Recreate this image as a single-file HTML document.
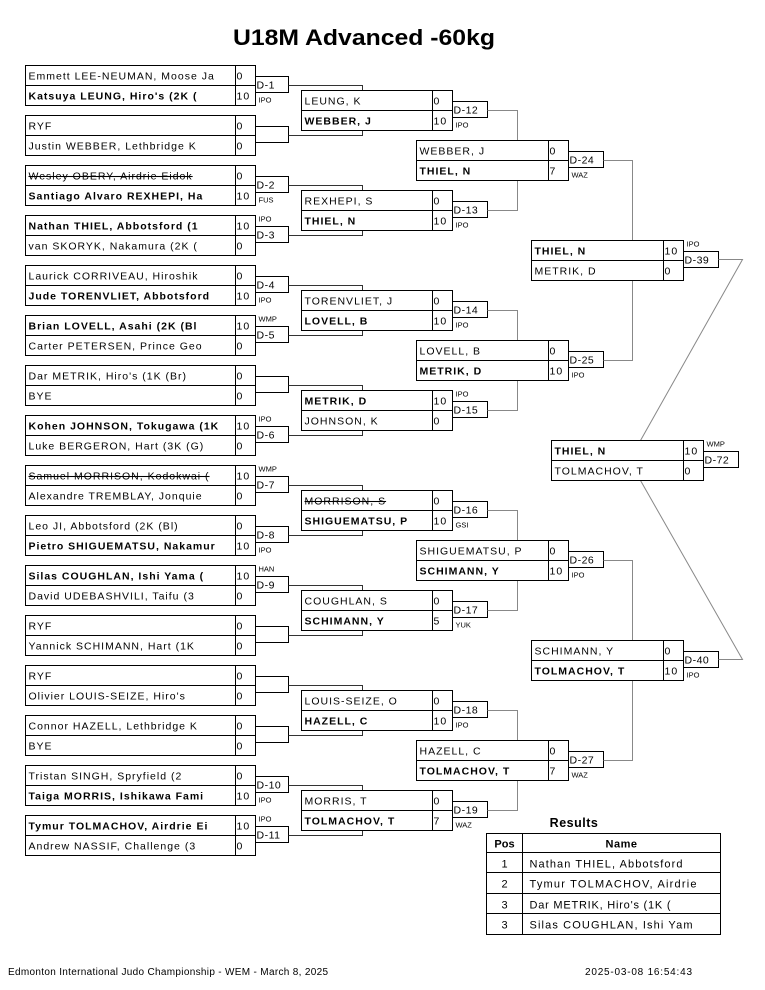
<!DOCTYPE html>
<html><head><meta charset="utf-8"><style>
html,body{margin:0;padding:0;background:#fff;}
svg{display:block;}
text{font-family:"Liberation Sans",Arial,sans-serif;fill:#000;}
.n{font-size:10.5px;letter-spacing:1px;}
.b{font-size:10.5px;font-weight:bold;letter-spacing:1px;}
.s{text-decoration:line-through;}
.d{font-size:10.5px;letter-spacing:0.5px;}
.m{font-size:7.5px;}
.box{fill:#fff;stroke:#000;stroke-width:1;}
.ln{stroke:#000;stroke-width:1;fill:none;}
.c1{stroke:#333;stroke-width:1;fill:none;}
.c2{stroke:#888;stroke-width:1;fill:none;}
</style></head><body>
<svg width="765" height="990" viewBox="0 0 765 990" xmlns="http://www.w3.org/2000/svg">
<text x="364" y="45" text-anchor="middle" font-size="22" font-weight="bold" textLength="262" lengthAdjust="spacingAndGlyphs">U18M Advanced -60kg</text>

<!-- ROUND 1 -->
<g transform="translate(25.5,65.5)"><rect class="box" width="230" height="40"/><line class="ln" x1="0" y1="20" x2="230" y2="20"/><line class="ln" x1="210" y1="0" x2="210" y2="40"/>
<text class="n" x="3" y="14">Emmett LEE-NEUMAN, Moose Ja</text><text class="b" x="3" y="34">Katsuya LEUNG, Hiro's (2K (</text><text class="n" x="211" y="14">0</text><text class="n" x="211" y="34">10</text>
<path class="ln" d="M230,11H263V27H230"/><text class="d" x="231" y="23">D-1</text><text class="m" x="233" y="37">IPO</text><path class="c1" d="M263,20H337V25"/></g>

<g transform="translate(25.5,115.5)"><rect class="box" width="230" height="40"/><line class="ln" x1="0" y1="20" x2="230" y2="20"/><line class="ln" x1="210" y1="0" x2="210" y2="40"/>
<text class="n" x="3" y="14">RYF</text><text class="n" x="3" y="34">Justin WEBBER, Lethbridge K</text><text class="n" x="211" y="14">0</text><text class="n" x="211" y="34">0</text>
<path class="ln" d="M230,11H263V27H230"/><path class="c1" d="M263,20H337V15"/></g>

<g transform="translate(25.5,165.5)"><rect class="box" width="230" height="40"/><line class="ln" x1="0" y1="20" x2="230" y2="20"/><line class="ln" x1="210" y1="0" x2="210" y2="40"/>
<text class="n s" x="3" y="14">Wesley OBERY, Airdrie Eidok</text><text class="b" x="3" y="34">Santiago Alvaro REXHEPI, Ha</text><text class="n" x="211" y="14">0</text><text class="n" x="211" y="34">10</text>
<path class="ln" d="M230,11H263V27H230"/><text class="d" x="231" y="23">D-2</text><text class="m" x="233" y="37">FUS</text><path class="c1" d="M263,20H337V25"/></g>

<g transform="translate(25.5,215.5)"><rect class="box" width="230" height="40"/><line class="ln" x1="0" y1="20" x2="230" y2="20"/><line class="ln" x1="210" y1="0" x2="210" y2="40"/>
<text class="b" x="3" y="14">Nathan THIEL, Abbotsford (1</text><text class="n" x="3" y="34"> van SKORYK, Nakamura (2K (</text><text class="n" x="211" y="14">10</text><text class="n" x="211" y="34">0</text>
<path class="ln" d="M230,11H263V27H230"/><text class="d" x="231" y="23">D-3</text><text class="m" x="233" y="6">IPO</text><path class="c1" d="M263,20H337V15"/></g>

<g transform="translate(25.5,265.5)"><rect class="box" width="230" height="40"/><line class="ln" x1="0" y1="20" x2="230" y2="20"/><line class="ln" x1="210" y1="0" x2="210" y2="40"/>
<text class="n" x="3" y="14">Laurick CORRIVEAU, Hiroshik</text><text class="b" x="3" y="34">Jude TORENVLIET, Abbotsford</text><text class="n" x="211" y="14">0</text><text class="n" x="211" y="34">10</text>
<path class="ln" d="M230,11H263V27H230"/><text class="d" x="231" y="23">D-4</text><text class="m" x="233" y="37">IPO</text><path class="c1" d="M263,20H337V25"/></g>

<g transform="translate(25.5,315.5)"><rect class="box" width="230" height="40"/><line class="ln" x1="0" y1="20" x2="230" y2="20"/><line class="ln" x1="210" y1="0" x2="210" y2="40"/>
<text class="b" x="3" y="14">Brian LOVELL, Asahi (2K (Bl</text><text class="n" x="3" y="34">Carter PETERSEN, Prince Geo</text><text class="n" x="211" y="14">10</text><text class="n" x="211" y="34">0</text>
<path class="ln" d="M230,11H263V27H230"/><text class="d" x="231" y="23">D-5</text><text class="m" x="233" y="6">WMP</text><path class="c1" d="M263,20H337V15"/></g>

<g transform="translate(25.5,365.5)"><rect class="box" width="230" height="40"/><line class="ln" x1="0" y1="20" x2="230" y2="20"/><line class="ln" x1="210" y1="0" x2="210" y2="40"/>
<text class="n" x="3" y="14">Dar METRIK, Hiro's (1K (Br)</text><text class="n" x="3" y="34">BYE</text><text class="n" x="211" y="14">0</text><text class="n" x="211" y="34">0</text>
<path class="ln" d="M230,11H263V27H230"/><path class="c1" d="M263,20H337V25"/></g>

<g transform="translate(25.5,415.5)"><rect class="box" width="230" height="40"/><line class="ln" x1="0" y1="20" x2="230" y2="20"/><line class="ln" x1="210" y1="0" x2="210" y2="40"/>
<text class="b" x="3" y="14">Kohen JOHNSON, Tokugawa (1K</text><text class="n" x="3" y="34">Luke BERGERON, Hart (3K (G)</text><text class="n" x="211" y="14">10</text><text class="n" x="211" y="34">0</text>
<path class="ln" d="M230,11H263V27H230"/><text class="d" x="231" y="23">D-6</text><text class="m" x="233" y="6">IPO</text><path class="c1" d="M263,20H337V15"/></g>

<g transform="translate(25.5,465.5)"><rect class="box" width="230" height="40"/><line class="ln" x1="0" y1="20" x2="230" y2="20"/><line class="ln" x1="210" y1="0" x2="210" y2="40"/>
<text class="n s" x="3" y="14">Samuel MORRISON, Kodokwai (</text><text class="n" x="3" y="34">Alexandre TREMBLAY, Jonquie</text><text class="n" x="211" y="14">10</text><text class="n" x="211" y="34">0</text>
<path class="ln" d="M230,11H263V27H230"/><text class="d" x="231" y="23">D-7</text><text class="m" x="233" y="6">WMP</text><path class="c1" d="M263,20H337V25"/></g>

<g transform="translate(25.5,515.5)"><rect class="box" width="230" height="40"/><line class="ln" x1="0" y1="20" x2="230" y2="20"/><line class="ln" x1="210" y1="0" x2="210" y2="40"/>
<text class="n" x="3" y="14">Leo JI, Abbotsford (2K (Bl)</text><text class="b" x="3" y="34">Pietro SHIGUEMATSU, Nakamur</text><text class="n" x="211" y="14">0</text><text class="n" x="211" y="34">10</text>
<path class="ln" d="M230,11H263V27H230"/><text class="d" x="231" y="23">D-8</text><text class="m" x="233" y="37">IPO</text><path class="c1" d="M263,20H337V15"/></g>

<g transform="translate(25.5,565.5)"><rect class="box" width="230" height="40"/><line class="ln" x1="0" y1="20" x2="230" y2="20"/><line class="ln" x1="210" y1="0" x2="210" y2="40"/>
<text class="b" x="3" y="14">Silas COUGHLAN, Ishi Yama (</text><text class="n" x="3" y="34">David UDEBASHVILI, Taifu (3</text><text class="n" x="211" y="14">10</text><text class="n" x="211" y="34">0</text>
<path class="ln" d="M230,11H263V27H230"/><text class="d" x="231" y="23">D-9</text><text class="m" x="233" y="6">HAN</text><path class="c1" d="M263,20H337V25"/></g>

<g transform="translate(25.5,615.5)"><rect class="box" width="230" height="40"/><line class="ln" x1="0" y1="20" x2="230" y2="20"/><line class="ln" x1="210" y1="0" x2="210" y2="40"/>
<text class="n" x="3" y="14">RYF</text><text class="n" x="3" y="34">Yannick SCHIMANN, Hart (1K</text><text class="n" x="211" y="14">0</text><text class="n" x="211" y="34">0</text>
<path class="ln" d="M230,11H263V27H230"/><path class="c1" d="M263,20H337V15"/></g>

<g transform="translate(25.5,665.5)"><rect class="box" width="230" height="40"/><line class="ln" x1="0" y1="20" x2="230" y2="20"/><line class="ln" x1="210" y1="0" x2="210" y2="40"/>
<text class="n" x="3" y="14">RYF</text><text class="n" x="3" y="34">Olivier LOUIS-SEIZE, Hiro's</text><text class="n" x="211" y="14">0</text><text class="n" x="211" y="34">0</text>
<path class="ln" d="M230,11H263V27H230"/><path class="c1" d="M263,20H337V25"/></g>

<g transform="translate(25.5,715.5)"><rect class="box" width="230" height="40"/><line class="ln" x1="0" y1="20" x2="230" y2="20"/><line class="ln" x1="210" y1="0" x2="210" y2="40"/>
<text class="n" x="3" y="14">Connor HAZELL, Lethbridge K</text><text class="n" x="3" y="34">BYE</text><text class="n" x="211" y="14">0</text><text class="n" x="211" y="34">0</text>
<path class="ln" d="M230,11H263V27H230"/><path class="c1" d="M263,20H337V15"/></g>

<g transform="translate(25.5,765.5)"><rect class="box" width="230" height="40"/><line class="ln" x1="0" y1="20" x2="230" y2="20"/><line class="ln" x1="210" y1="0" x2="210" y2="40"/>
<text class="n" x="3" y="14">Tristan SINGH, Spryfield (2</text><text class="b" x="3" y="34">Taiga MORRIS, Ishikawa Fami</text><text class="n" x="211" y="14">0</text><text class="n" x="211" y="34">10</text>
<path class="ln" d="M230,11H263V27H230"/><text class="d" x="231" y="23">D-10</text><text class="m" x="233" y="37">IPO</text><path class="c1" d="M263,20H337V25"/></g>

<g transform="translate(25.5,815.5)"><rect class="box" width="230" height="40"/><line class="ln" x1="0" y1="20" x2="230" y2="20"/><line class="ln" x1="210" y1="0" x2="210" y2="40"/>
<text class="b" x="3" y="14">Tymur TOLMACHOV, Airdrie Ei</text><text class="n" x="3" y="34">Andrew NASSIF, Challenge (3</text><text class="n" x="211" y="14">10</text><text class="n" x="211" y="34">0</text>
<path class="ln" d="M230,11H263V27H230"/><text class="d" x="231" y="23">D-11</text><text class="m" x="233" y="6">IPO</text><path class="c1" d="M263,20H337V15"/></g>

<!-- ROUND 2 -->
<g transform="translate(301.5,90.5)"><rect class="box" width="151" height="40"/><line class="ln" x1="0" y1="20" x2="151" y2="20"/><line class="ln" x1="131" y1="0" x2="131" y2="40"/>
<text class="n" x="3" y="14">LEUNG, K</text><text class="b" x="3" y="34">WEBBER, J</text><text class="n" x="132" y="14">0</text><text class="n" x="132" y="34">10</text>
<path class="ln" d="M151,11H186V27H151"/><text class="d" x="152" y="23">D-12</text><text class="m" x="154" y="37">IPO</text><path class="c2" d="M186,20H216V50"/></g>

<g transform="translate(301.5,190.5)"><rect class="box" width="151" height="40"/><line class="ln" x1="0" y1="20" x2="151" y2="20"/><line class="ln" x1="131" y1="0" x2="131" y2="40"/>
<text class="n" x="3" y="14">REXHEPI, S</text><text class="b" x="3" y="34">THIEL, N</text><text class="n" x="132" y="14">0</text><text class="n" x="132" y="34">10</text>
<path class="ln" d="M151,11H186V27H151"/><text class="d" x="152" y="23">D-13</text><text class="m" x="154" y="37">IPO</text><path class="c2" d="M186,20H216V-10"/></g>

<g transform="translate(301.5,290.5)"><rect class="box" width="151" height="40"/><line class="ln" x1="0" y1="20" x2="151" y2="20"/><line class="ln" x1="131" y1="0" x2="131" y2="40"/>
<text class="n" x="3" y="14">TORENVLIET, J</text><text class="b" x="3" y="34">LOVELL, B</text><text class="n" x="132" y="14">0</text><text class="n" x="132" y="34">10</text>
<path class="ln" d="M151,11H186V27H151"/><text class="d" x="152" y="23">D-14</text><text class="m" x="154" y="37">IPO</text><path class="c2" d="M186,20H216V50"/></g>

<g transform="translate(301.5,390.5)"><rect class="box" width="151" height="40"/><line class="ln" x1="0" y1="20" x2="151" y2="20"/><line class="ln" x1="131" y1="0" x2="131" y2="40"/>
<text class="b" x="3" y="14">METRIK, D</text><text class="n" x="3" y="34">JOHNSON, K</text><text class="n" x="132" y="14">10</text><text class="n" x="132" y="34">0</text>
<path class="ln" d="M151,11H186V27H151"/><text class="d" x="152" y="23">D-15</text><text class="m" x="154" y="6">IPO</text><path class="c2" d="M186,20H216V-10"/></g>

<g transform="translate(301.5,490.5)"><rect class="box" width="151" height="40"/><line class="ln" x1="0" y1="20" x2="151" y2="20"/><line class="ln" x1="131" y1="0" x2="131" y2="40"/>
<text class="n s" x="3" y="14">MORRISON, S</text><text class="b" x="3" y="34">SHIGUEMATSU, P</text><text class="n" x="132" y="14">0</text><text class="n" x="132" y="34">10</text>
<path class="ln" d="M151,11H186V27H151"/><text class="d" x="152" y="23">D-16</text><text class="m" x="154" y="37">GSI</text><path class="c2" d="M186,20H216V50"/></g>

<g transform="translate(301.5,590.5)"><rect class="box" width="151" height="40"/><line class="ln" x1="0" y1="20" x2="151" y2="20"/><line class="ln" x1="131" y1="0" x2="131" y2="40"/>
<text class="n" x="3" y="14">COUGHLAN, S</text><text class="b" x="3" y="34">SCHIMANN, Y</text><text class="n" x="132" y="14">0</text><text class="n" x="132" y="34">5</text>
<path class="ln" d="M151,11H186V27H151"/><text class="d" x="152" y="23">D-17</text><text class="m" x="154" y="37">YUK</text><path class="c2" d="M186,20H216V-10"/></g>

<g transform="translate(301.5,690.5)"><rect class="box" width="151" height="40"/><line class="ln" x1="0" y1="20" x2="151" y2="20"/><line class="ln" x1="131" y1="0" x2="131" y2="40"/>
<text class="n" x="3" y="14">LOUIS-SEIZE, O</text><text class="b" x="3" y="34">HAZELL, C</text><text class="n" x="132" y="14">0</text><text class="n" x="132" y="34">10</text>
<path class="ln" d="M151,11H186V27H151"/><text class="d" x="152" y="23">D-18</text><text class="m" x="154" y="37">IPO</text><path class="c2" d="M186,20H216V50"/></g>

<g transform="translate(301.5,790.5)"><rect class="box" width="151" height="40"/><line class="ln" x1="0" y1="20" x2="151" y2="20"/><line class="ln" x1="131" y1="0" x2="131" y2="40"/>
<text class="n" x="3" y="14">MORRIS, T</text><text class="b" x="3" y="34">TOLMACHOV, T</text><text class="n" x="132" y="14">0</text><text class="n" x="132" y="34">7</text>
<path class="ln" d="M151,11H186V27H151"/><text class="d" x="152" y="23">D-19</text><text class="m" x="154" y="37">WAZ</text><path class="c2" d="M186,20H216V-10"/></g>

<!-- ROUND 3 -->
<g transform="translate(416.5,140.5)"><rect class="box" width="152" height="40"/><line class="ln" x1="0" y1="20" x2="152" y2="20"/><line class="ln" x1="132" y1="0" x2="132" y2="40"/>
<text class="n" x="3" y="14">WEBBER, J</text><text class="b" x="3" y="34">THIEL, N</text><text class="n" x="133" y="14">0</text><text class="n" x="133" y="34">7</text>
<path class="ln" d="M152,11H187V27H152"/><text class="d" x="153" y="23">D-24</text><text class="m" x="155" y="37">WAZ</text><path class="c2" d="M187,20H216V100"/></g>

<g transform="translate(416.5,340.5)"><rect class="box" width="152" height="40"/><line class="ln" x1="0" y1="20" x2="152" y2="20"/><line class="ln" x1="132" y1="0" x2="132" y2="40"/>
<text class="n" x="3" y="14">LOVELL, B</text><text class="b" x="3" y="34">METRIK, D</text><text class="n" x="133" y="14">0</text><text class="n" x="133" y="34">10</text>
<path class="ln" d="M152,11H187V27H152"/><text class="d" x="153" y="23">D-25</text><text class="m" x="155" y="37">IPO</text><path class="c2" d="M187,20H216V-60"/></g>

<g transform="translate(416.5,540.5)"><rect class="box" width="152" height="40"/><line class="ln" x1="0" y1="20" x2="152" y2="20"/><line class="ln" x1="132" y1="0" x2="132" y2="40"/>
<text class="n" x="3" y="14">SHIGUEMATSU, P</text><text class="b" x="3" y="34">SCHIMANN, Y</text><text class="n" x="133" y="14">0</text><text class="n" x="133" y="34">10</text>
<path class="ln" d="M152,11H187V27H152"/><text class="d" x="153" y="23">D-26</text><text class="m" x="155" y="37">IPO</text><path class="c2" d="M187,20H216V100"/></g>

<g transform="translate(416.5,740.5)"><rect class="box" width="152" height="40"/><line class="ln" x1="0" y1="20" x2="152" y2="20"/><line class="ln" x1="132" y1="0" x2="132" y2="40"/>
<text class="n" x="3" y="14">HAZELL, C</text><text class="b" x="3" y="34">TOLMACHOV, T</text><text class="n" x="133" y="14">0</text><text class="n" x="133" y="34">7</text>
<path class="ln" d="M152,11H187V27H152"/><text class="d" x="153" y="23">D-27</text><text class="m" x="155" y="37">WAZ</text><path class="c2" d="M187,20H216V-60"/></g>

<!-- ROUND 4 -->
<g transform="translate(531.5,240.5)"><rect class="box" width="152" height="40"/><line class="ln" x1="0" y1="20" x2="152" y2="20"/><line class="ln" x1="132" y1="0" x2="132" y2="40"/>
<text class="b" x="3" y="14">THIEL, N</text><text class="n" x="3" y="34">METRIK, D</text><text class="n" x="133" y="14">10</text><text class="n" x="133" y="34">0</text>
<path class="ln" d="M152,11H187V27H152"/><text class="d" x="153" y="23">D-39</text><text class="m" x="155" y="6">IPO</text><path class="c2" d="M187,19H211L109,200"/></g>

<g transform="translate(531.5,640.5)"><rect class="box" width="152" height="40"/><line class="ln" x1="0" y1="20" x2="152" y2="20"/><line class="ln" x1="132" y1="0" x2="132" y2="40"/>
<text class="n" x="3" y="14">SCHIMANN, Y</text><text class="b" x="3" y="34">TOLMACHOV, T</text><text class="n" x="133" y="14">0</text><text class="n" x="133" y="34">10</text>
<path class="ln" d="M152,11H187V27H152"/><text class="d" x="153" y="23">D-40</text><text class="m" x="155" y="37">IPO</text><path class="c2" d="M187,19H211L109,-160"/></g>

<!-- FINAL -->
<g transform="translate(551.5,440.5)"><rect class="box" width="152" height="40"/><line class="ln" x1="0" y1="20" x2="152" y2="20"/><line class="ln" x1="132" y1="0" x2="132" y2="40"/>
<text class="b" x="3" y="14">THIEL, N</text><text class="n" x="3" y="34">TOLMACHOV, T</text><text class="n" x="133" y="14">10</text><text class="n" x="133" y="34">0</text>
<path class="ln" d="M152,11H187V27H152"/><text class="d" x="153" y="23">D-72</text><text class="m" x="155" y="6">WMP</text></g>

<!-- RESULTS -->
<text x="574" y="827" text-anchor="middle" font-size="12.5" font-weight="bold" letter-spacing="0.5">Results</text>
<g transform="translate(486.5,833.5)">
<rect class="box" width="234" height="101"/>
<line class="ln" x1="0" y1="19" x2="234" y2="19"/>
<line class="ln" x1="0" y1="39" x2="234" y2="39"/>
<line class="ln" x1="0" y1="60" x2="234" y2="60"/>
<line class="ln" x1="0" y1="80" x2="234" y2="80"/>
<line class="ln" x1="36" y1="0" x2="36" y2="101"/>
<text x="18" y="14" text-anchor="middle" font-size="11" font-weight="bold">Pos</text>
<text x="135" y="14" text-anchor="middle" font-size="11" font-weight="bold" letter-spacing="0.5">Name</text>
<text x="18" y="34" text-anchor="middle" font-size="11">1</text><text x="43" y="34" font-size="11" textLength="153" lengthAdjust="spacing">Nathan THIEL, Abbotsford</text>
<text x="18" y="54" text-anchor="middle" font-size="11">2</text><text x="43" y="54" font-size="11" textLength="167" lengthAdjust="spacing">Tymur TOLMACHOV, Airdrie</text>
<text x="18" y="75" text-anchor="middle" font-size="11">3</text><text x="43" y="75" font-size="11" textLength="141" lengthAdjust="spacing">Dar METRIK, Hiro's (1K (</text>
<text x="18" y="95" text-anchor="middle" font-size="11">3</text><text x="43" y="95" font-size="11" textLength="163" lengthAdjust="spacing">Silas COUGHLAN, Ishi Yam</text>
</g>

<text x="8" y="975" font-size="10" textLength="320" lengthAdjust="spacing">Edmonton International Judo Championship - WEM - March 8, 2025</text>
<text x="585" y="975" font-size="10" textLength="107" lengthAdjust="spacing">2025-03-08 16:54:43</text>
</svg>
</body></html>
